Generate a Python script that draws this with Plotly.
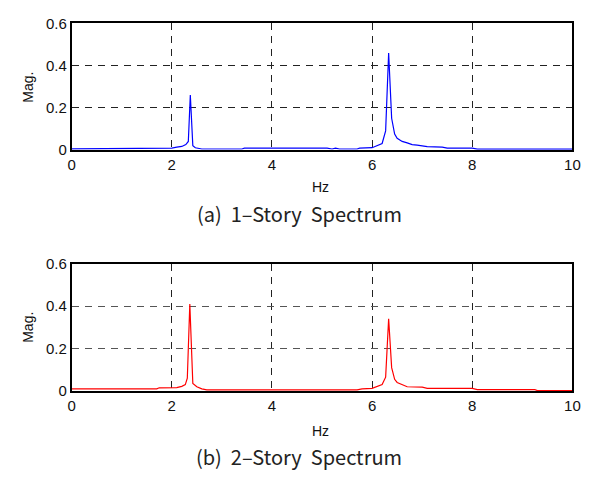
import plotly.graph_objects as go

# 1-Story spectrum (blue)
hz_1 = [0.0, 1.15, 1.2, 2.0, 2.1, 2.2, 2.28, 2.33, 2.37, 2.42, 2.47, 2.6, 3.4, 3.45, 5.1, 5.2, 5.27, 5.35, 5.7, 5.75, 6.0,
        6.1, 6.2, 6.27, 6.33, 6.39, 6.45, 6.5, 6.6, 6.7, 6.8, 6.9, 7.0, 7.1, 7.4, 7.5, 8.0, 8.1, 10.0]
mag_1 = [0.005, 0.005, 0.008, 0.008, 0.013, 0.016, 0.025, 0.04, 0.26, 0.02, 0.01, 0.004, 0.004, 0.008, 0.008, 0.004, 0.008, 0.004, 0.004, 0.008, 0.01,
         0.02, 0.03, 0.09, 0.46, 0.15, 0.075, 0.055, 0.04, 0.033, 0.025, 0.022, 0.02, 0.015, 0.013, 0.008, 0.008, 0.003, 0.003]

# 2-Story spectrum (red)
hz_2 = [0.0, 1.7, 1.75, 2.1, 2.2, 2.27, 2.31, 2.36, 2.42, 2.5, 2.6, 2.7, 5.7, 5.8, 6.0, 6.1, 6.2, 6.27, 6.33,
        6.39, 6.45, 6.5, 6.6, 6.7, 7.0, 7.1, 8.0, 8.1, 9.25, 9.3, 10.0]
mag_2 = [0.01, 0.01, 0.015, 0.016, 0.022, 0.03, 0.06, 0.41, 0.035, 0.02, 0.01, 0.005, 0.005, 0.01, 0.012, 0.02, 0.03, 0.065, 0.34,
         0.11, 0.055, 0.04, 0.03, 0.02, 0.018, 0.012, 0.012, 0.006, 0.006, 0.002, 0.002]

x_ticks = [0, 2, 4, 6, 8, 10]
y_ticks = [0, 0.2, 0.4, 0.6]
y_tick_text = ["0", "0.2", "0.4", "0.6"]
captions = ["(a)  1–Story  Spectrum", "(b)  2–Story  Spectrum"]

W, H = 602, 480
xd = [69 / W, 580 / W]
yd1 = [1 - 146 / H, 1 - 15 / H]
yd2 = [1 - 396 / H, 1 - 264 / H]

fig = go.Figure()
fig.add_trace(go.Scatter(x=hz_1, y=mag_1, mode="lines", line=dict(color="#0000ff", width=1.2),
                         xaxis="x", yaxis="y", showlegend=False))
fig.add_trace(go.Scatter(x=hz_2, y=mag_2, mode="lines", line=dict(color="#ff0000", width=1.2),
                         xaxis="x2", yaxis="y2", showlegend=False))

FAM = "Liberation Sans"
font = dict(family=FAM, size=15, color="#111")
ax_common = dict(showline=True, linecolor="black", linewidth=1.5, mirror=True, ticks="",
                 showgrid=True, gridcolor="#222", griddash="7px,6px", gridwidth=1, zeroline=False,
                 tickfont=font)

fig.update_layout(
    width=W, height=H, margin=dict(l=0, r=0, t=0, b=0),
    paper_bgcolor="white", plot_bgcolor="white",
    font=dict(family=FAM),
    xaxis=dict(domain=xd, anchor="y", range=[0, 10], tickvals=x_ticks, **ax_common),
    yaxis=dict(domain=yd1, anchor="x", range=[0, 0.6], tickvals=y_ticks, ticktext=y_tick_text, **ax_common),
    xaxis2=dict(domain=xd, anchor="y2", range=[0, 10], tickvals=x_ticks, **ax_common),
    yaxis2=dict(domain=yd2, anchor="x2", range=[0, 0.6], tickvals=y_ticks, ticktext=y_tick_text,
                **{**ax_common, "gridcolor": "#555"}),
)

ann = []
for yc, yh, ym, cap in [(212, 185, 81, captions[0]), (464, 437, 330, captions[1])]:
    ann.append(dict(text="Hz", x=323 / W, y=1 - yh / H, xref="paper", yref="paper",
                    showarrow=False, font=dict(family=FAM, size=14, color="#111"),
                    xanchor="center", yanchor="middle"))
    ann.append(dict(text="Mag.", x=25 / W, y=1 - ym / H, xref="paper", yref="paper", textangle=-90,
                    showarrow=False, font=dict(family=FAM, size=14, color="#111"),
                    xanchor="center", yanchor="middle"))
    ann.append(dict(text=cap, x=301 / W, y=1 - yc / H, xref="paper", yref="paper",
                    showarrow=False, font=dict(family="Noto Sans CJK KR", size=20, color="#222"),
                    xanchor="center", yanchor="middle"))
fig.update_layout(annotations=ann)

fig.write_html("out.html", config={"displayModeBar": False},
               post_script="document.body.style.margin='0';")
